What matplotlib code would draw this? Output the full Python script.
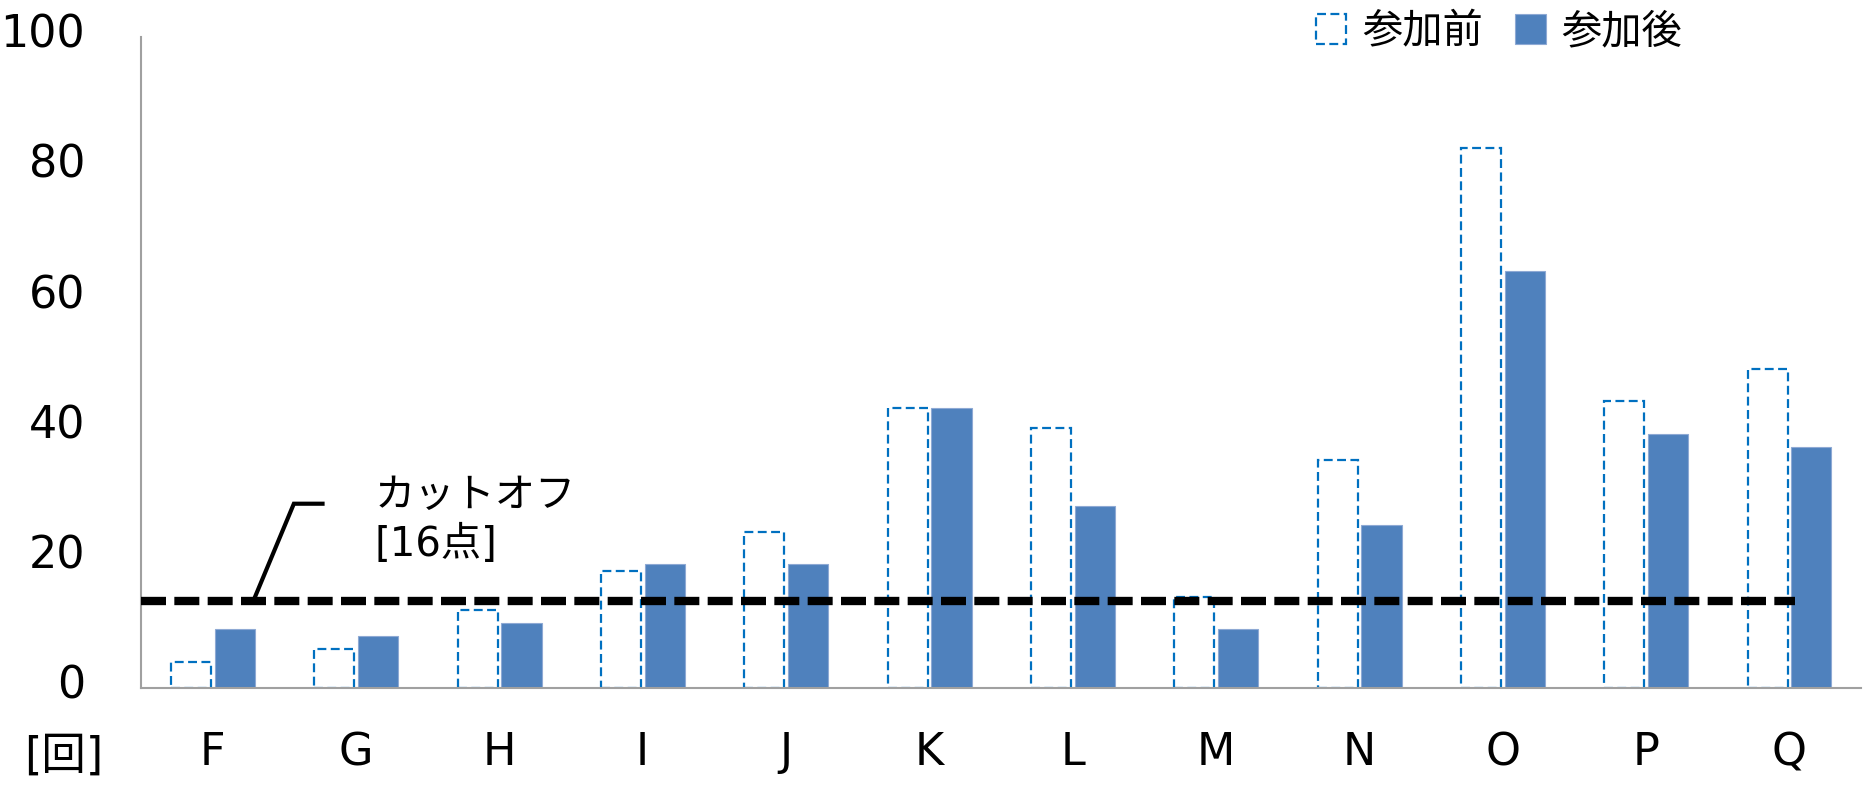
import numpy as np
import matplotlib
matplotlib.use("Agg")
import matplotlib.pyplot as plt
import matplotlib.transforms as mtransforms

plt.rcParams['font.family'] = ['DejaVu Sans', 'Noto Sans CJK JP']

categories = ['F', 'G', 'H', 'I', 'J', 'K', 'L', 'M', 'N', 'O', 'P', 'Q']
before = [4, 6, 12, 18, 24, 43, 40, 14, 35, 83, 44, 49]
after = [9, 8, 10, 19, 19, 43, 28, 9, 25, 64, 39, 37]
cutoff = 13.3
y_ticks = [0, 20, 40, 60, 80, 100]

fig = plt.figure(figsize=(18.74, 7.85), dpi=100)
ax = fig.add_axes([0.0752, 0.1236, 0.9178, 0.8294])

x = np.arange(len(categories))
ax.bar(x - 0.15, before, 0.28, facecolor='white', edgecolor='#0070C0',
       linestyle=(0, (4, 2)), linewidth=1.6, label='参加前', zorder=2)
ax.bar(x + 0.155, after, 0.28, color='#4F81BD', edgecolor='#8EA9D4',
       linewidth=0.8, label='参加後', zorder=2)

# cutoff line
ax.plot([-0.5, 11.04], [cutoff, cutoff], color='black', lw=6,
        dashes=(3, 1), dash_capstyle='butt', zorder=4)

# leader line + label
ax.plot([0.767, 0.567, 0.283], [28.3, 28.3, cutoff], color='black', lw=3,
        solid_joinstyle='miter', zorder=4)
ax.text(1.133, 25.7, 'カットオフ\n[16点]', ha='left', va='center',
        fontsize=29, linespacing=1.3)

ax.set_xlim(-0.5, 11.5)
ax.set_ylim(0, 100)
ax.set_xticks(x)
ax.set_xticklabels(categories)
ax.set_yticks(y_ticks)
ax.tick_params(axis='y', length=0, pad=40, labelsize=32)
ax.tick_params(axis='x', length=0, pad=31, labelsize=32)

# y labels sit a little above their values in the original
shift = mtransforms.ScaledTranslation(0, 4.5 / 72, fig.dpi_scale_trans)
for lab in ax.get_yticklabels():
    lab.set_transform(lab.get_transform() + shift)

for s in ['top', 'right']:
    ax.spines[s].set_visible(False)
for s in ['left', 'bottom']:
    ax.spines[s].set_color('#A0A0A0')
    ax.spines[s].set_linewidth(1.5)

ax.legend(loc='center', bbox_to_anchor=(0.800, 0.959), bbox_transform=fig.transFigure,
          ncol=2, frameon=False, handlelength=0.75, handleheight=0.75,
          handletextpad=0.4, columnspacing=0.8, fontsize=29)

fig.text(0.0128, 0.037, '[回]', ha='left', va='center', fontsize=32)

fig.savefig('out.png', dpi=100)
